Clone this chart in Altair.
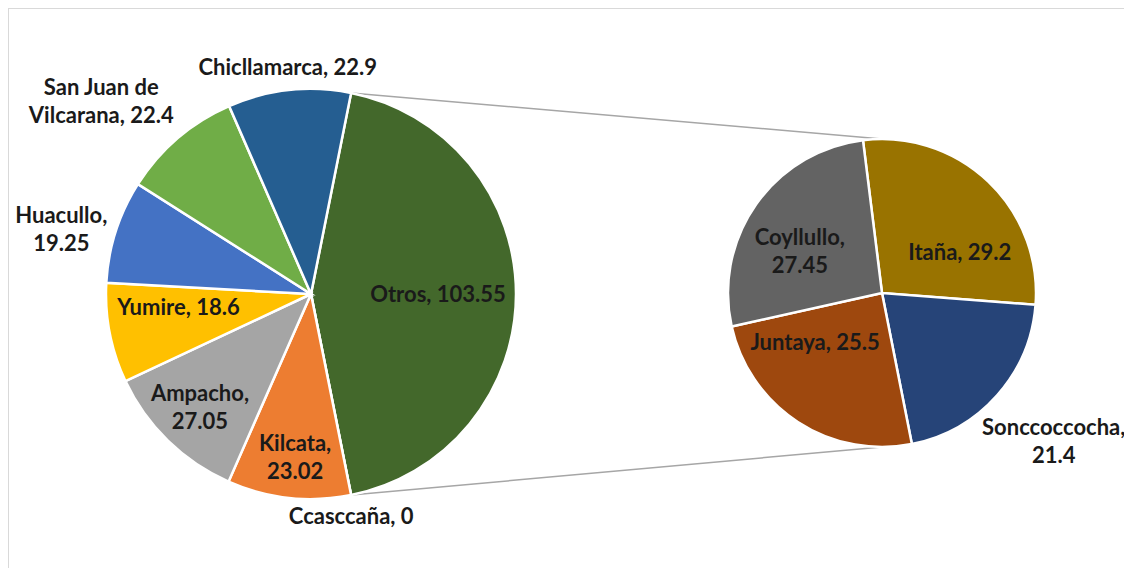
import math
import altair as alt
import pandas as pd

# ---- data ----
MAIN_NAMES = ["Otros", "Ccasccaña", "Kilcata", "Ampacho", "Yumire", "Huacullo",
              "San Juan de Vilcarana", "Chicllamarca"]
MAIN_VALUES = [103.55, 0, 23.02, 27.05, 18.6, 19.25, 22.4, 22.9]
MAIN_LABELS = ["Otros, 103.55", "Ccasccaña, 0", "Kilcata,\n23.02", "Ampacho,\n27.05",
               "Yumire, 18.6", "Huacullo,\n19.25", "San Juan de\nVilcarana, 22.4",
               "Chicllamarca, 22.9"]

SUB_NAMES = ["Itaña", "Sonccoccocha", "Juntaya", "Coyllullo"]
SUB_VALUES = [29.2, 21.4, 25.5, 27.45]
SUB_LABELS = ["Itaña, 29.2", "Sonccoccocha,\n21.4", "Juntaya, 25.5", "Coyllullo,\n27.45"]

# ---- styles ----
PALETTE = {
    "Otros": "#43682B", "Ccasccaña": "#5B9BD5", "Kilcata": "#ED7D31", "Ampacho": "#A5A5A5",
    "Yumire": "#FFC000", "Huacullo": "#4472C4", "San Juan de Vilcarana": "#70AD47",
    "Chicllamarca": "#255E91", "Itaña": "#997300", "Sonccoccocha": "#264478",
    "Juntaya": "#9E480E", "Coyllullo": "#636363",
}
FONT = "Lato"
FSIZE = 22
LH = 28

# geometry (view coordinates; view starts at page offset 8,8)
W, H = 1116, 560
CX1, CY1, R1 = 303, 286, 205
CX2, CY2, R2 = 874, 285, 154
SUB_START = math.radians(-7.1)

# label layout: name -> (radius, dx, dy)
MAIN_LAYOUT = {
    "Otros": (127, 0, 1), "Ccasccaña": (226, -4, 1), "Kilcata": (165, 2, 0),
    "Ampacho": (159, 0, 0), "Yumire": (134, -1, -12), "Huacullo": (258, -4, 15),
    "San Juan de Vilcarana": (284, -25, 24), "Chicllamarca": (227, 1, 0),
}
SUB_LAYOUT = {
    "Itaña": (88, 17, 24), "Sonccoccocha": (227, 2, -2),
    "Juntaya": (84, -21, -20), "Coyllullo": (92, -7, 12),
}

main_df = pd.DataFrame({"idx": range(len(MAIN_NAMES)), "name": MAIN_NAMES,
                        "value": MAIN_VALUES, "label": MAIN_LABELS})
sub_df = pd.DataFrame({"idx": range(len(SUB_NAMES)), "name": SUB_NAMES,
                       "value": SUB_VALUES, "label": SUB_LABELS})

main_total = sum(MAIN_VALUES)
sub_total = sum(SUB_VALUES)
main_start = math.pi / 2 - math.pi * MAIN_VALUES[0] / main_total

sc_main = alt.Scale(domain=[0, main_total], range=[main_start, main_start + 2 * math.pi])
sc_sub = alt.Scale(domain=[0, sub_total], range=[SUB_START, SUB_START + 2 * math.pi])

color = alt.Color("name:N", scale=alt.Scale(domain=list(PALETTE.keys()),
                                             range=list(PALETTE.values())), legend=None)


def base(df):
    return (alt.Chart(df)
            .transform_window(cum="sum(value)", sort=[alt.SortField("idx")], frame=[None, 0])
            .transform_calculate(start="datum.cum - datum.value",
                                 mid="datum.cum - datum.value / 2"))


def pie(df, sc, cx, cy, r):
    return base(df).mark_arc(radius=r, stroke="white", strokeWidth=2.5).encode(
        theta=alt.Theta("start:Q", scale=sc),
        theta2=alt.Theta2("cum:Q"),
        color=color,
        x=alt.value(cx), y=alt.value(cy),
    )


def labels(df, sc, cx, cy, layout):
    out = []
    lab = dict(zip(df["name"], df["label"]))
    for name, (rad, dx, dy) in layout.items():
        # vertically centre multi-line blocks (Vega anchors the first line)
        dy_eff = dy - lab[name].count("\n") * LH / 2
        out.append(
            base(df).transform_filter(alt.datum.name == name)
            .mark_text(radius=rad, dx=dx, dy=dy_eff, font=FONT, fontSize=FSIZE,
                       fontWeight="bold", color="#1a1a1a", align="center",
                       baseline="middle", lineBreak="\n", lineHeight=LH)
            .encode(theta=alt.Theta("mid:Q", scale=sc, stack=False),
                    text="label:N", x=alt.value(cx), y=alt.value(cy))
        )
    return out


a_top = main_start
a_bot = math.pi - main_start
one = pd.DataFrame({"k": [0]})
conn_top = alt.Chart(one).mark_rule(color="#A6A6A6", strokeWidth=1.5).encode(
    x=alt.value(CX1 + R1 * math.sin(a_top)), y=alt.value(CY1 - R1 * math.cos(a_top)),
    x2=alt.value(CX2), y2=alt.value(CY2 - R2))
conn_bot = alt.Chart(one).mark_rule(color="#A6A6A6", strokeWidth=1.5).encode(
    x=alt.value(CX1 + R1 * math.sin(a_bot)), y=alt.value(CY1 - R1 * math.cos(a_bot)),
    x2=alt.value(CX2), y2=alt.value(CY2 + R2))

# chart frame: only the top and left edges are visible in the reference
frame_top = alt.Chart(one).mark_rule(color="#D9D9D9", strokeWidth=1).encode(
    x=alt.value(0), x2=alt.value(W), y=alt.value(0.5), y2=alt.value(0.5))
frame_left = alt.Chart(one).mark_rule(color="#D9D9D9", strokeWidth=1).encode(
    x=alt.value(0.5), x2=alt.value(0.5), y=alt.value(0), y2=alt.value(H))

layers = [frame_top, frame_left, conn_top, conn_bot,
          pie(main_df, sc_main, CX1, CY1, R1),
          pie(sub_df, sc_sub, CX2, CY2, R2)]
layers += labels(main_df, sc_main, CX1, CY1, MAIN_LAYOUT)
layers += labels(sub_df, sc_sub, CX2, CY2, SUB_LAYOUT)

chart = (alt.layer(*layers)
         .resolve_scale(theta="independent")
         .properties(width=W, height=H, autosize=alt.AutoSizeParams(type="none"),
                     padding=0, background="white")
         .configure_view(strokeWidth=0))

chart.save("out.html", embed_options={"renderer": "svg", "actions": False})
